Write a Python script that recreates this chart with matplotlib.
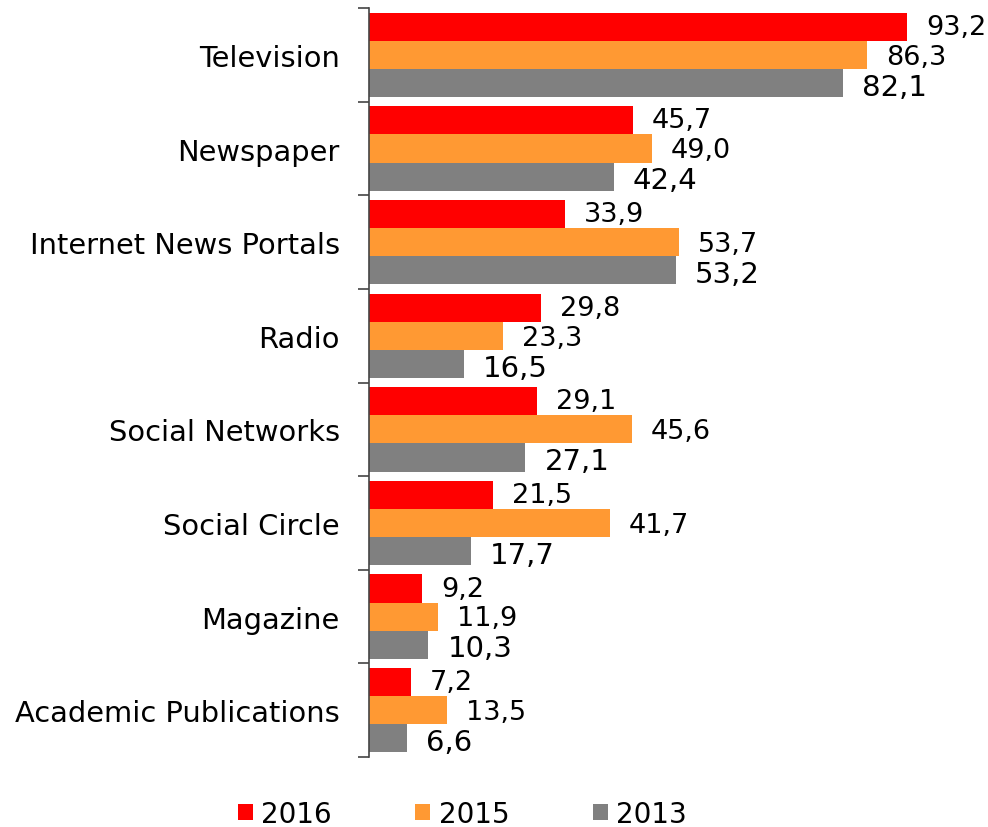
import numpy as np
from matplotlib import pyplot as plt

categories = ['Television', 'Newspaper', 'Internet News Portals', 'Radio',
              'Social Networks', 'Social Circle', 'Magazine', 'Academic Publications']
years = ['2016', '2015', '2013']
v2016 = [93.2, 45.7, 33.9, 29.8, 29.1, 21.5, 9.2, 7.2]
v2015 = [86.3, 49.0, 53.7, 23.3, 45.6, 41.7, 11.9, 13.5]
v2013 = [82.1, 42.4, 53.2, 16.5, 27.1, 17.7, 10.3, 6.6]

colors = ['#ff0000', '#ff9933', '#808080']
label_sizes = [19.5, 19.5, 21]

fig = plt.figure(figsize=(9.88, 8.28), dpi=100)
ax = fig.add_axes([0.3735, 0.0845, 0.584, 0.9045])

pos = np.arange(len(categories)) + 0.5
h = 0.3
for k, vals in enumerate([v2016, v2015, v2013]):
    y = pos + (k - 1) * h
    ax.barh(y, vals, height=h, color=colors[k], label=years[k])
    for yy, v in zip(y, vals):
        ax.text(v + 3.3, yy + 0.02 * k, f'{v:.1f}'.replace('.', ','),
                va='center', ha='left', fontsize=label_sizes[k])

ax.set_xlim(0, 100)
ax.set_ylim(len(categories), 0)
ax.set_yticks(pos)
ax.set_yticklabels(categories, fontsize=20.8)
ax.set_yticks(np.arange(len(categories) + 1), minor=True)
ax.tick_params(axis='y', which='major', length=0, pad=21)
ax.tick_params(axis='y', which='minor', length=8, width=1.2, color='#444444')
ax.set_xticks([])
for s in ['top', 'right', 'bottom']:
    ax.spines[s].set_visible(False)
ax.spines['left'].set_color('#444444')
ax.spines['left'].set_linewidth(1.2)

fig.legend(loc='center', bbox_to_anchor=(0.468, 0.016), ncol=3, frameon=False,
           fontsize=20, handlelength=0.55, handleheight=0.55,
           handletextpad=0.3, columnspacing=3.0)

plt.savefig('out.png')
